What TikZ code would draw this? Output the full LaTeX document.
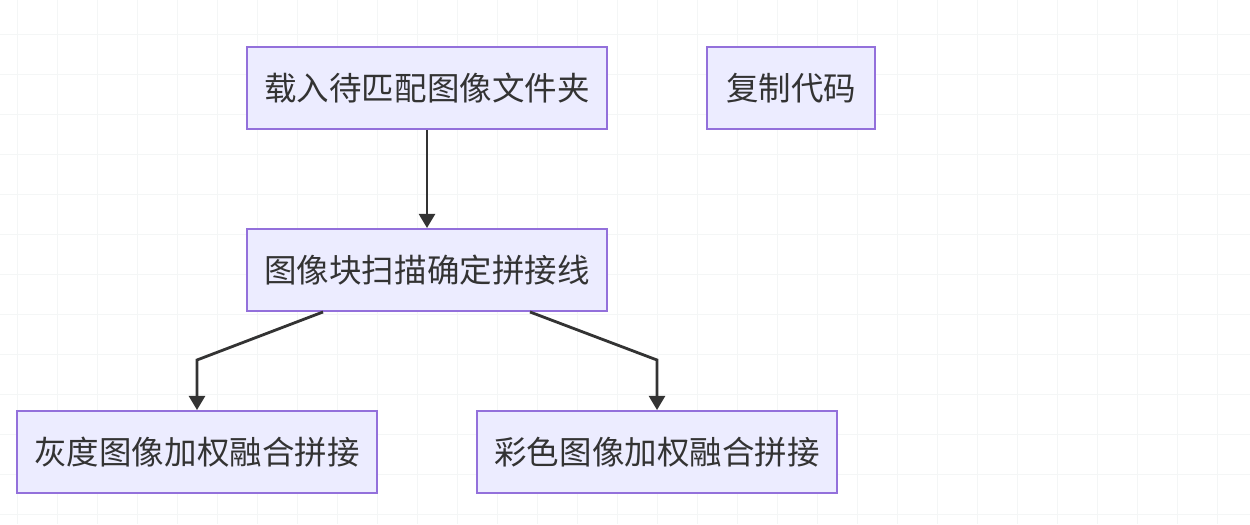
\documentclass[tikz,border=0pt]{standalone}
\usepackage{fontspec}
\newfontfamily\cjk{Noto Sans CJK SC}
\definecolor{boxFill}{HTML}{ECECFF}
\definecolor{boxLine}{HTML}{9370DB}
\definecolor{lineDark}{HTML}{333333}
\definecolor{gridLine}{HTML}{F4F6F6}
\usetikzlibrary{arrows.meta}

\begin{document}
\begin{tikzpicture}[x=0.02cm, y=-0.02cm,
  box/.style={draw=boxLine, fill=boxFill, line width=1.1pt,
    minimum width=7.2cm, minimum height=1.64cm, inner sep=0pt,
    text=lineDark, font=\cjk\fontsize{18.5}{22}\selectfont},
  arr/.style={draw=lineDark, line width=1.6pt,
    -{Triangle[length=8pt, width=9pt]}}]
  % Hintergrund
  \useasboundingbox (0,0) rectangle (1250,524);
  \fill[white] (0,0) rectangle (1250,524);
  \foreach \x in {17,57,...,1250} \draw[gridLine, line width=0.5pt] (\x,0) -- (\x,524);
  \foreach \y in {34,74,...,524} \draw[gridLine, line width=0.5pt] (0,\y) -- (1250,\y);

  % Knoten
  \node[box] (load) at (427,88) {载入待匹配图像文件夹};
  \node[box, minimum width=3.36cm] (copy) at (791,88) {复制代码};
  \node[box] (scan) at (427,270) {图像块扫描确定拼接线};
  \node[box] (gray) at (197,452) {灰度图像加权融合拼接};
  \node[box] (color) at (657,452) {彩色图像加权融合拼接};

  % Verbindungen
  \coordinate (bendL) at (197,360);
  \coordinate (bendR) at (657,360);
  \draw[arr] (load) -- (scan);
  \draw[arr] ([xshift=-2.08cm]scan.south) -- (bendL) -- (gray.north);
  \draw[arr] ([xshift=2.06cm]scan.south) -- (bendR) -- (color.north);
\end{tikzpicture}
\end{document}
